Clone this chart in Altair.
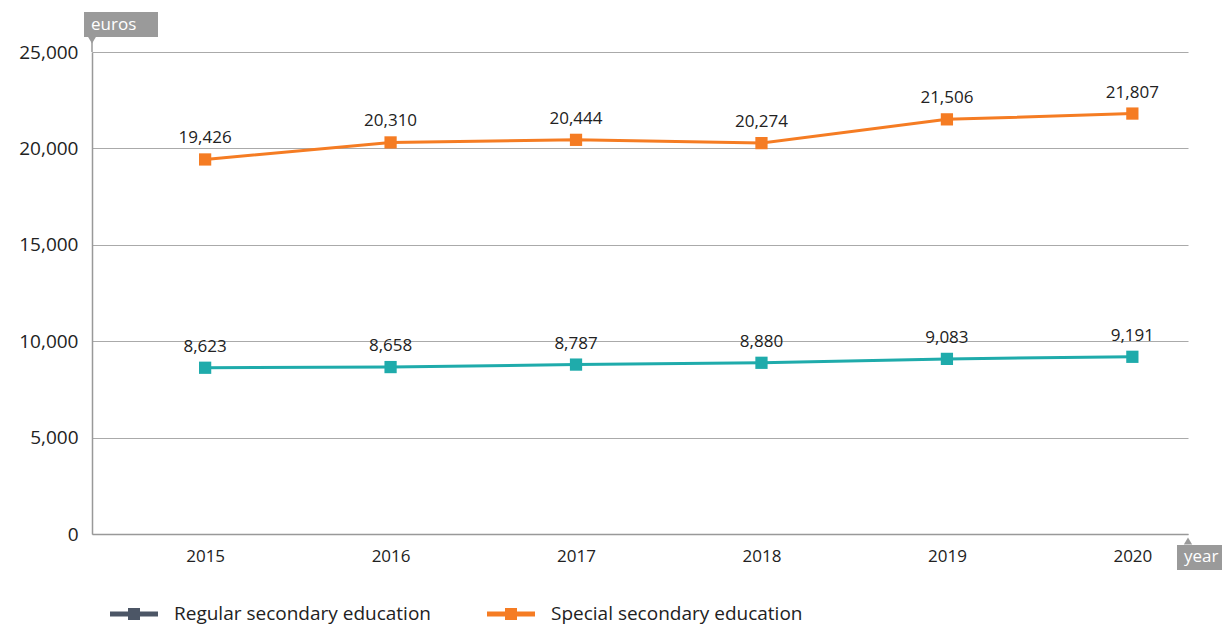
import altair as alt
import pandas as pd

years = [2015, 2016, 2017, 2018, 2019, 2020]
regular = [8623, 8658, 8787, 8880, 9083, 9191]
special = [19426, 20310, 20444, 20274, 21506, 21807]
series_names = ["Regular secondary education", "Special secondary education"]
y_ticks = [0, 5000, 10000, 15000, 20000, 25000]

rows = []
for yr, r, s in zip(years, regular, special):
    rows.append({"year": yr, "series": series_names[0], "value": r})
    rows.append({"year": yr, "series": series_names[1], "value": s})
df = pd.DataFrame(rows)
df["label"] = df["value"].map(lambda v: f"{v:,}")

FONT = "Open Sans"
TXT = "#222222"
line_colors = ["#1fabab", "#f57c23"]
legend_colors = ["#4c5666", "#f57c23"]
BOX = "#9a9a9a"

x = alt.X("year:Q", scale=alt.Scale(domain=[2014.39, 2020.3], nice=False, zero=False),
          axis=alt.Axis(title=None, values=years, format="d", labelAngle=0, ticks=False, grid=False,
                        domainColor="#999999", domainWidth=1.5,
                        labelFont=FONT, labelFontSize=17, labelColor=TXT,
                        labelPadding=14, labelFlush=False))
y = alt.Y("value:Q", scale=alt.Scale(domain=[0, 25000], nice=False),
          axis=alt.Axis(title=None, values=y_ticks, format=",.0f", ticks=False,
                        grid=True, gridColor="#aaaaaa", gridWidth=1.2,
                        domainColor="#999999", domainWidth=1.5,
                        labelFont=FONT, labelFontSize=19, labelColor=TXT,
                        labelPadding=14))

color = alt.Color("series:N", scale=alt.Scale(domain=series_names, range=line_colors), legend=None)

base = alt.Chart(df)
sym = "M-1,-0.1H-0.25V-0.25H0.25V-0.1H1V0.1H0.25V0.25H-0.25V0.1H-1Z"
legend_layer = base.mark_point(filled=True, size=8, opacity=1).encode(
    x=x, y=y,
    fill=alt.Fill("series:N", scale=alt.Scale(domain=series_names, range=legend_colors),
                  legend=alt.Legend(title=None, orient="none", legendX=18, legendY=538,
                                    direction="horizontal", symbolType=sym, symbolSize=2304,
                                    symbolOpacity=1, symbolStrokeWidth=0,
                                    labelFont=FONT, labelFontSize=19, labelColor=TXT,
                                    labelOffset=16, columnPadding=56, labelLimit=400)))
lines = base.mark_line(strokeWidth=3).encode(x=x, y=y, color=color, detail="series:N")
points = base.mark_square(size=150, opacity=1).encode(x=x, y=y, color=color)
labels = base.mark_text(dy=-21, fontSize=17, font=FONT, color=TXT).encode(x=x, y=y, text="label:N")

euros_df = pd.DataFrame({"t": ["euros"]})
year_df = pd.DataFrame({"t": ["year"]})

euros_box = alt.Chart(euros_df).mark_rect(color=BOX).encode(
    x=alt.value(-8), x2=alt.value(66), y=alt.value(-40), y2=alt.value(-15))
euros_tri = alt.Chart(euros_df).mark_point(shape="triangle-down", filled=True, size=70, color=BOX, opacity=1).encode(
    x=alt.value(0), y=alt.value(-12))
euros_stem = alt.Chart(euros_df).mark_rule(color="#999999", strokeWidth=1.5).encode(
    x=alt.value(0), y=alt.value(-10), y2=alt.value(0))
euros_txt = alt.Chart(euros_df).mark_text(align="left", baseline="middle", color="white",
                                          fontSize=17, font=FONT).encode(
    x=alt.value(-1), y=alt.value(-27), text="t:N")

year_box = alt.Chart(year_df).mark_rect(color=BOX).encode(
    x=alt.value(1085), x2=alt.value(1136), y=alt.value(493), y2=alt.value(518))
year_tri = alt.Chart(year_df).mark_point(shape="triangle-up", filled=True, size=70, color=BOX, opacity=1).encode(
    x=alt.value(1096), y=alt.value(489))
year_txt = alt.Chart(year_df).mark_text(align="left", baseline="middle", color="white",
                                        fontSize=17, font=FONT).encode(
    x=alt.value(1092), y=alt.value(505), text="t:N")

chart = alt.layer(
    legend_layer, lines, points, labels,
    euros_box, euros_tri, euros_stem, euros_txt, year_box, year_tri, year_txt
).properties(
    width=1096, height=482,
    autosize=alt.AutoSizeParams(type="none"),
    padding={"left": 84, "top": 44, "right": 34, "bottom": 96},
).configure_view(stroke=None)

chart.save("out.html", embed_options={"renderer": "svg", "actions": False})
